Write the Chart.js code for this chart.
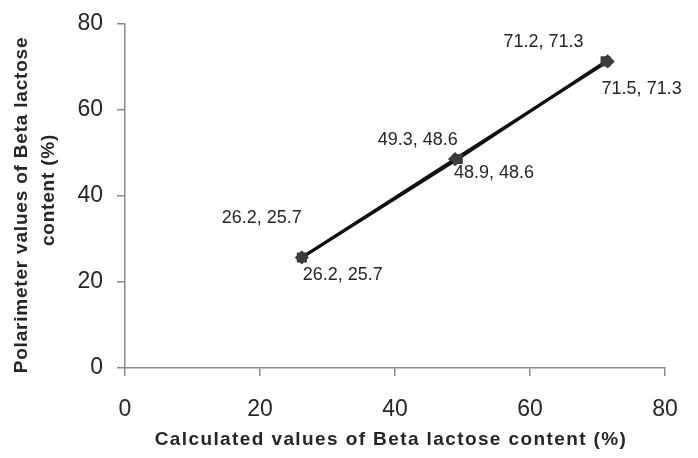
<!DOCTYPE html>
<html>
<head>
<meta charset="utf-8">
<script src="https://cdn.jsdelivr.net/npm/chart.js@4/dist/chart.umd.min.js"></script>
<style>
  html, body { margin: 0; padding: 0; background: #fff; }
  #wrap { width: 698px; height: 458px; }
</style>
</head>
<body>
<div id="wrap"><canvas id="c" width="698" height="458"></canvas></div>
<script>
// Beta lactose content: calculated (x) vs polarimeter (y), two replicate runs
const calcRunA = [26.2, 49.3, 71.2];
const polRunA  = [25.7, 48.6, 71.3];
const calcRunB = [26.2, 48.9, 71.5];
const polRunB  = [25.7, 48.6, 71.3];
const axisTicks = [0, 20, 40, 60, 80];
const xTitle = 'Calculated values of Beta lactose content (%)';
const yTitle = ['Polarimeter values of Beta lactose', 'content (%)'];

const toPoints = (xs, ys) => xs.map((x, i) => ({ x: x, y: ys[i] }));

const FONT = '"Liberation Sans", Arial, sans-serif';
const TEXT = '#262626';

// Writes "x, y" beside each point, nudged by the per-point offsets of its dataset
const pointLabels = {
  id: 'pointLabels',
  afterDatasetsDraw(chart) {
    const ctx = chart.ctx;
    ctx.save();
    ctx.font = '18px ' + FONT;
    ctx.fillStyle = TEXT;
    ctx.textAlign = 'center';
    ctx.textBaseline = 'middle';
    chart.data.datasets.forEach((ds, di) => {
      const meta = chart.getDatasetMeta(di);
      meta.data.forEach((el, i) => {
        const p = ds.data[i];
        const off = ds.labelOffsets[i];
        ctx.fillText(p.x.toFixed(1) + ', ' + p.y.toFixed(1), el.x + off[0], el.y + off[1]);
      });
    });
    ctx.restore();
  }
};

// Axis titles in a loosely tracked bold face
const axisTitles = {
  id: 'axisTitles',
  afterDraw(chart) {
    const ctx = chart.ctx;
    const area = chart.chartArea;
    ctx.save();
    ctx.font = 'bold 19px ' + FONT;
    ctx.fillStyle = TEXT;
    ctx.textAlign = 'center';
    ctx.textBaseline = 'middle';
    if ('letterSpacing' in ctx) ctx.letterSpacing = '1.4px';
    ctx.fillText(xTitle, (area.left + area.right) / 2 - 4, 440);
    if ('letterSpacing' in ctx) ctx.letterSpacing = '0.8px';
    const cy = (area.top + area.bottom) / 2;
    ctx.translate(0, cy);
    ctx.rotate(-Math.PI / 2);
    ctx.fillText(yTitle[0], -9, 22);
    ctx.fillText(yTitle[1], 6, 49);
    ctx.restore();
  }
};

const axisStyle = {
  grid: { drawOnChartArea: false, drawTicks: true, tickLength: 8, color: '#8a8a8a', lineWidth: 1.5 },
  border: { color: '#8a8a8a', width: 1.5 }
};

new Chart(document.getElementById('c'), {
  type: 'scatter',
  data: {
    datasets: [
      {
        label: 'Run A',
        data: toPoints(calcRunA, polRunA),
        showLine: true,
        borderColor: '#111',
        borderWidth: 3,
        pointStyle: 'rect',
        pointRadius: 5,
        pointBackgroundColor: '#3c3c3c',
        pointBorderColor: '#3c3c3c',
        labelOffsets: [[-40, -39], [-40, -19], [-62, -19]]
      },
      {
        label: 'Run B',
        data: toPoints(calcRunB, polRunB),
        showLine: true,
        borderColor: '#111',
        borderWidth: 3,
        pointStyle: 'rectRot',
        pointRadius: 5,
        pointBackgroundColor: '#3c3c3c',
        pointBorderColor: '#3c3c3c',
        labelOffsets: [[41, 18], [39, 14], [34, 28]]
      }
    ]
  },
  options: {
    responsive: false,
    animation: false,
    layout: { padding: { top: 24, right: 33, left: 0, bottom: 0 } },
    plugins: {
      legend: { display: false },
      tooltip: { enabled: false }
    },
    scales: {
      x: Object.assign({
        type: 'linear',
        min: axisTicks[0],
        max: axisTicks[axisTicks.length - 1],
        afterBuildTicks: (s) => { s.ticks = axisTicks.map(v => ({ value: v })); },
        afterFit: (s) => { s.height = 90; s.paddingLeft = 0; s.paddingRight = 0; },
        ticks: { color: TEXT, font: { family: FONT, size: 23 }, padding: 20, maxRotation: 0 }
      }, axisStyle),
      y: Object.assign({
        type: 'linear',
        min: axisTicks[0],
        max: axisTicks[axisTicks.length - 1],
        afterBuildTicks: (s) => { s.ticks = axisTicks.map(v => ({ value: v })); },
        afterFit: (s) => { s.width = 125; s.paddingTop = 0; s.paddingBottom = 0; },
        ticks: { color: TEXT, font: { family: FONT, size: 23 }, padding: 14 }
      }, axisStyle)
    }
  },
  plugins: [pointLabels, axisTitles]
});
</script>
</body>
</html>
